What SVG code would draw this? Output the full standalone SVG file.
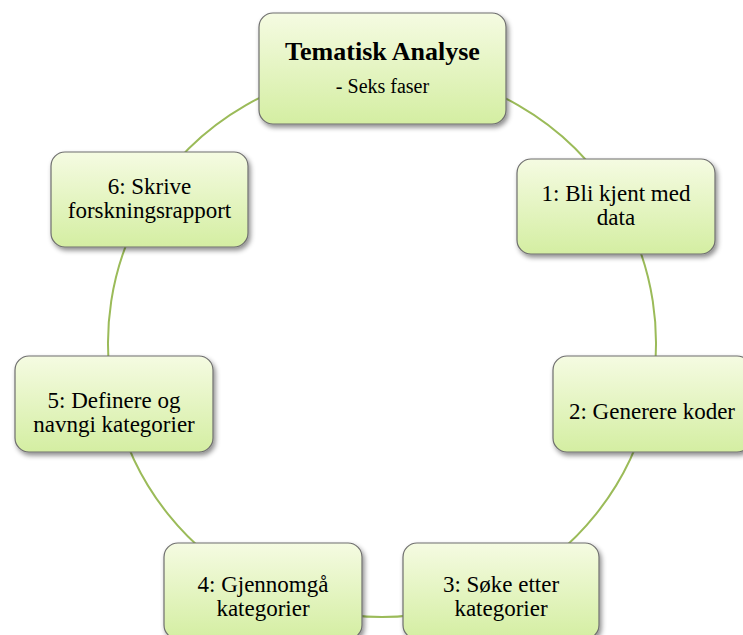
<svg xmlns="http://www.w3.org/2000/svg" width="743" height="635" viewBox="0 0 743 635">
<defs>
<linearGradient id="g" x1="0" y1="0" x2="0" y2="1">
<stop offset="0" stop-color="#f5fbe2"/>
<stop offset="1" stop-color="#d4eea2"/>
</linearGradient>
<filter id="sh" x="-10%" y="-10%" width="125%" height="130%">
<feDropShadow dx="2" dy="3" stdDeviation="2.5" flood-color="#000" flood-opacity="0.45"/>
</filter>
</defs>
<style>
.box{fill:url(#g);stroke:#6e6e6e;stroke-width:1.2;filter:url(#sh)}
.t{font-family:"Liberation Serif","Times New Roman",serif;font-size:23px;fill:#000;text-anchor:middle}
.title{font-size:26px;font-weight:bold}
.sub{font-size:20px}
.arc{fill:none;stroke:#9bbb59;stroke-width:2}
</style>
<rect width="743" height="635" fill="#fff"/>
<g id="connectors">
<path class="arc" d="M382,69 A274,274 0 0 1 618.6,204.8"/>
<path class="arc" d="M618.6,204.8 A274,274 0 0 1 649.3,403.2"/>
<path class="arc" d="M649.3,403.2 A274,274 0 0 1 499.5,590.5"/>
<path class="arc" d="M499.5,590.5 A274,274 0 0 1 264.5,590.5"/>
<path class="arc" d="M264.5,590.5 A274,274 0 0 1 114.7,403.2"/>
<path class="arc" d="M114.7,403.2 A274,274 0 0 1 145.4,204.8"/>
<path class="arc" d="M145.4,204.8 A274,274 0 0 1 382,69"/>
</g>
<g id="node-title">
<rect class="box" x="259" y="13" width="247" height="111" rx="14"/>
<text class="t title" x="382.5" y="60">Tematisk Analyse</text>
<text class="t sub" x="382.5" y="93">- Seks faser</text>
</g>
<g id="node-1">
<rect class="box" x="517" y="159" width="198" height="95" rx="14"/>
<text class="t" x="616" y="201">1: Bli kjent med</text>
<text class="t" x="616" y="225">data</text>
</g>
<g id="node-2">
<rect class="box" x="553" y="356" width="198" height="96" rx="14"/>
<text class="t" x="652" y="419">2: Generere koder</text>
</g>
<g id="node-3">
<rect class="box" x="403" y="543" width="196" height="96" rx="14"/>
<text class="t" x="501" y="592">3: Søke etter</text>
<text class="t" x="501" y="616">kategorier</text>
</g>
<g id="node-4">
<rect class="box" x="164" y="543" width="198" height="96" rx="14"/>
<text class="t" x="263" y="592">4: Gjennomgå</text>
<text class="t" x="263" y="616">kategorier</text>
</g>
<g id="node-5">
<rect class="box" x="15" y="356" width="198" height="96" rx="14"/>
<text class="t" x="114" y="408">5: Definere og</text>
<text class="t" x="114" y="432">navngi kategorier</text>
</g>
<g id="node-6">
<rect class="box" x="51" y="152" width="197" height="95" rx="14"/>
<text class="t" x="149.5" y="194">6: Skrive</text>
<text class="t" x="149.5" y="218">forskningsrapport</text>
</g>
</svg>
